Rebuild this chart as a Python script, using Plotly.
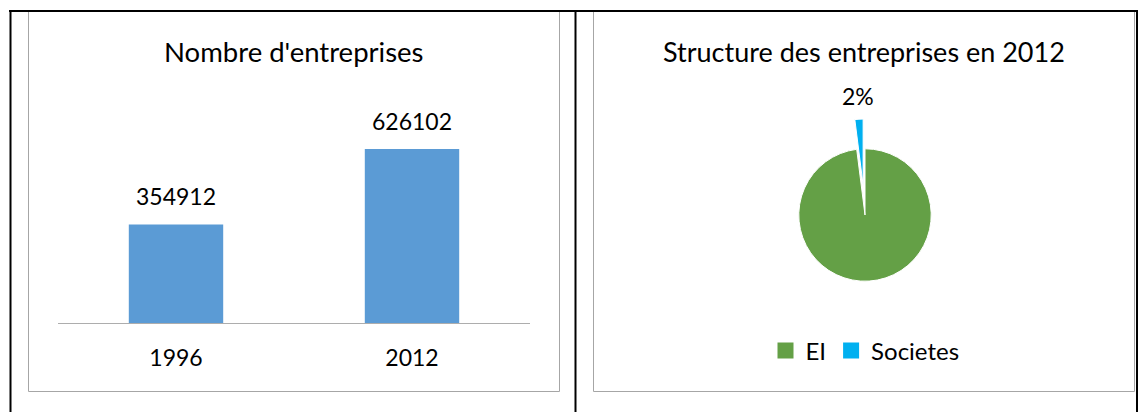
import plotly.graph_objects as go

# ---- data ----
years = ["1996", "2012"]
companies = [354912, 626102]
pie_labels = ["EI", "Societes"]
pie_values = [98, 2]
pie_colors = ["#64A046", "#00B0F0"]

W, H = 1140, 412
FONT = "Lato, Carlito, Calibri, sans-serif"
TXT = "#000000"


def px(x):
    return x / W


def py(y):
    return 1 - y / H


fig = go.Figure()

fig.add_trace(go.Bar(
    x=years, y=companies, width=0.4,
    marker=dict(color="#5B9BD5", line=dict(width=0)),
    showlegend=False, hoverinfo="skip",
    xaxis="x", yaxis="y",
))

fig.add_trace(go.Pie(
    labels=pie_labels, values=pie_values,
    sort=False, direction="clockwise", rotation=0,
    pull=[0, 0.45],
    marker=dict(colors=pie_colors, line=dict(color="white", width=1)),
    textinfo="none",
    domain=dict(x=[px(865 - 96), px(865 + 96)], y=[py(215 + 96), py(215 - 96)]),
    hoverinfo="skip", showlegend=False,
))

# legend entries (larger square swatches, like the original)
for lab, col in zip(pie_labels, pie_colors):
    fig.add_trace(go.Scatter(
        x=[None], y=[None], mode="markers", name=lab,
        marker=dict(symbol="square", size=16, color=col),
        showlegend=True, hoverinfo="skip",
    ))

annotations = []
for i, (yr, v) in enumerate(zip(years, companies)):
    annotations.append(dict(
        x=i, y=v, xref="x", yref="y", text=str(v), showarrow=False,
        yanchor="bottom", yshift=12, font=dict(family=FONT, size=23, color=TXT),
    ))

total = sum(pie_values)
pct_text = f"{round(100 * pie_values[1] / total)}%"
annotations.append(dict(x=px(858), y=py(96), xref="paper", yref="paper",
                        text=pct_text, showarrow=False,
                        xanchor="center", yanchor="middle",
                        font=dict(family=FONT, size=23, color=TXT)))

annotations.append(dict(x=px(293.5), y=py(52), xref="paper", yref="paper",
                        text="Nombre d'entreprises", showarrow=False,
                        xanchor="center", yanchor="middle",
                        font=dict(family=FONT, size=27.5, color=TXT)))
annotations.append(dict(x=px(864), y=py(52), xref="paper", yref="paper",
                        text="Structure des entreprises en 2012", showarrow=False,
                        xanchor="center", yanchor="middle",
                        font=dict(family=FONT, size=27, color=TXT)))

grey = "#A6A6A6"
shapes = [
    dict(type="rect", xref="paper", yref="paper", x0=px(28.5), x1=px(559.5),
         y0=py(391.5), y1=py(11), line=dict(color=grey, width=1)),
    dict(type="rect", xref="paper", yref="paper", x0=px(593.5), x1=px(1134.5),
         y0=py(391.5), y1=py(11), line=dict(color=grey, width=1)),
    dict(type="line", xref="paper", yref="paper", x0=px(9), x1=px(1138),
         y0=py(11), y1=py(11), line=dict(color="black", width=2)),
    dict(type="line", xref="paper", yref="paper", x0=px(10.5), x1=px(10.5),
         y0=py(10), y1=py(413), line=dict(color="black", width=2)),
    dict(type="line", xref="paper", yref="paper", x0=px(575.5), x1=px(575.5),
         y0=py(10), y1=py(413), line=dict(color="black", width=2)),
    dict(type="line", xref="paper", yref="paper", x0=px(1137), x1=px(1137),
         y0=py(10), y1=py(413), line=dict(color="black", width=2)),
]

fig.update_layout(
    width=W, height=H, autosize=False,
    margin=dict(l=0, r=0, t=0, b=0),
    paper_bgcolor="white", plot_bgcolor="white",
    font=dict(family=FONT, color=TXT),
    xaxis=dict(domain=[px(58), px(530)], type="category", range=[-0.5, 1.5],
               showline=True, linecolor="#ADADAD", linewidth=1,
               showgrid=False, zeroline=False, ticks="",
               tickfont=dict(family=FONT, size=23, color=TXT),
               ticklabelstandoff=14, fixedrange=True),
    yaxis=dict(domain=[py(323), py(128.5)], range=[0, 700000], visible=False,
               fixedrange=True),
    showlegend=True,
    legend=dict(orientation="h", x=px(865), xanchor="center",
                y=py(351), yanchor="middle", itemsizing="trace",
                font=dict(family=FONT, size=24, color=TXT),
                bgcolor="rgba(0,0,0,0)"),
    annotations=annotations,
    shapes=shapes,
)

fig.write_html("out.html")
